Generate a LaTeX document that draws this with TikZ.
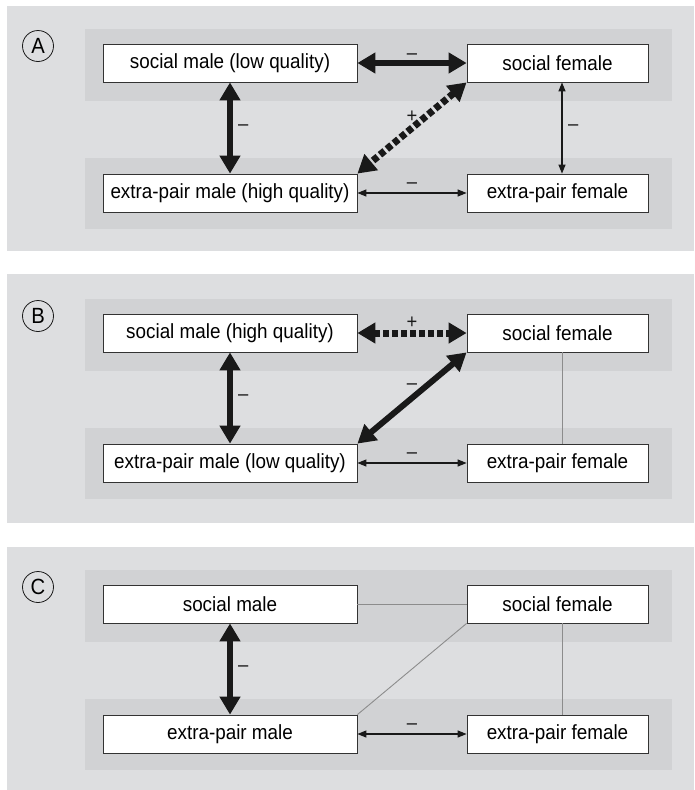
\documentclass[tikz,border=0pt]{standalone}
\usepackage{fontspec}
\setmainfont{Liberation Sans}[FakeStretch=0.92]
\definecolor{panelgray}{HTML}{DDDEE0}
\definecolor{bandgray}{HTML}{D1D2D4}
\definecolor{linkgray}{HTML}{8C8C8C}
\usetikzlibrary{arrows.meta,calc}

\begin{document}
\begin{tikzpicture}[x=1pt,y=-1pt,
  box/.style={draw=black!80,fill=white,line width=0.8pt,minimum height=38pt,inner sep=0pt,font=\fontsize{20.5}{23}\selectfont},
  wide/.style={box,minimum width=254pt},
  narrow/.style={box,minimum width=181pt},
  tag/.style={circle,draw=black!90,line width=0.8pt,minimum size=31pt,inner sep=0pt,font=\fontsize{22}{24}\selectfont},
  strong/.style={line width=6pt,black!90,{Triangle[length=18pt,width=20pt]}-{Triangle[length=18pt,width=20pt]}},
  strongdash/.style={strong,line width=7pt,dash pattern=on 6pt off 3pt},
  weak/.style={line width=1.2pt,black!90,{Triangle[length=9pt,width=7pt]}-{Triangle[length=9pt,width=7pt]}},
  nolink/.style={line width=0.9pt,linkgray},
  sign/.style={inner sep=0pt,outer sep=0pt,black!90,font=\fontsize{20}{22}\selectfont}]
  \useasboundingbox (0,0) rectangle (694,790);
  % panel frames and bands
  \foreach \tagname/\dy/\ytop/\ybot in {A/0/6/251,B/270/4/253,C/541/6/249}{
    \begin{scope}[shift={(0,\dy)}]
      \fill[panelgray] (7,\ytop) rectangle (694,\ybot);
      \fill[bandgray] (85,29) rectangle (672,101);
      \fill[bandgray] (85,158) rectangle (672,229);
      \node[tag] (tag\tagname) at (38,46) {\tagname};
    \end{scope}
  }
  % panel A
  \node[wide] (smA) at (230,63) {social male (low quality)};
  \node[narrow] (sfA) at (557.5,63) {social female};
  \node[wide] (emA) at (230,193) {extra-pair male (high quality)};
  \node[narrow] (efA) at (557.5,193) {extra-pair female};
  \draw[strong] (smA.east) -- node[sign,above=3.5pt] {\textendash} (sfA.west);
  \draw[strong] (smA.south) -- node[sign,right=8pt] {\textendash} (emA.north);
  \draw[strongdash] (sfA.south west) -- node[sign,above=6pt] {+} (emA.north east);
  \draw[weak] ([xshift=4.5pt]sfA.south) -- node[sign,right=6pt] {\textendash} ([xshift=4.5pt]efA.north);
  \draw[weak] (emA.east) -- node[sign,above=4.5pt] {\textendash} (efA.west);
  % panel B
  \begin{scope}[shift={(0,270)}]
    \node[wide] (smB) at (230,63) {social male (high quality)};
    \node[narrow] (sfB) at (557.5,63) {social female};
    \node[wide] (emB) at (230,193) {extra-pair male (low quality)};
    \node[narrow] (efB) at (557.5,193) {extra-pair female};
    \draw[strongdash] (smB.east) -- node[sign,above=5pt] {+} (sfB.west);
    \draw[strong] (smB.south) -- node[sign,right=8pt] {\textendash} (emB.north);
    \draw[strong] (sfB.south west) -- node[sign,above=8.5pt] {\textendash} (emB.north east);
    \draw[nolink] ([xshift=4.5pt]sfB.south) -- ([xshift=4.5pt]efB.north);
    \draw[weak] (emB.east) -- node[sign,above=4.5pt] {\textendash} (efB.west);
  \end{scope}
  % panel C
  \begin{scope}[shift={(0,541)}]
    \node[wide] (smC) at (230,63) {social male};
    \node[narrow] (sfC) at (557.5,63) {social female};
    \node[wide] (emC) at (230,193) {extra-pair male};
    \node[narrow] (efC) at (557.5,193) {extra-pair female};
    \draw[nolink] (smC.east) -- (sfC.west);
    \draw[nolink] (sfC.south west) -- (emC.north east);
    \draw[nolink] ([xshift=4.5pt]sfC.south) -- ([xshift=4.5pt]efC.north);
    \draw[strong] (smC.south) -- node[sign,right=8pt] {\textendash} (emC.north);
    \draw[weak] (emC.east) -- node[sign,above=4.5pt] {\textendash} (efC.west);
  \end{scope}
\end{tikzpicture}
\end{document}
